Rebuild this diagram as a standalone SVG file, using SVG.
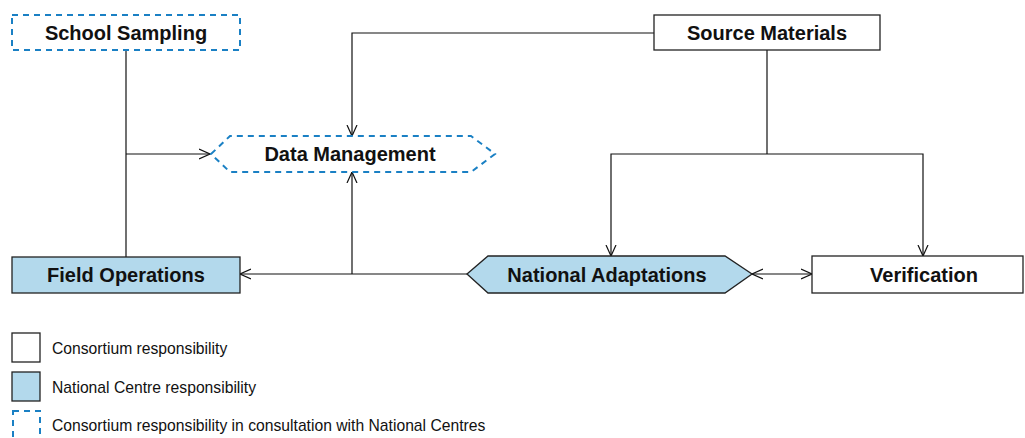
<svg xmlns="http://www.w3.org/2000/svg" width="1025" height="438" viewBox="0 0 1025 438">
<style>
.solid{fill:#fff;stroke:#222;stroke-width:1.3}
.nat{fill:#b3d9ec;stroke:#222;stroke-width:1.3}
.dash{fill:#fff;stroke:#1a80c4;stroke-width:2;stroke-dasharray:6 5}
.t{font-family:"Liberation Sans",Arial,sans-serif;font-weight:bold;font-size:20px;fill:#111;text-anchor:middle}
.l{font-family:"Liberation Sans",Arial,sans-serif;font-size:15.7px;fill:#111}
.c{fill:none;stroke:#111;stroke-width:1.2}
</style>
<defs>
<marker id="a" viewBox="0 0 12 12" refX="11" refY="6" markerWidth="12" markerHeight="12" markerUnits="userSpaceOnUse" orient="auto-start-reverse">
<path d="M0,1 L11,6 L0,11" fill="none" stroke="#111" stroke-width="1.2"/>
</marker>
</defs>
<g id="connectors">
<path class="c" d="M126,50 V257"/>
<path class="c" d="M126,154 H210" marker-end="url(#a)"/>
<path class="c" d="M654,33 H352 V136" marker-end="url(#a)"/>
<path class="c" d="M467,274 H240" marker-end="url(#a)"/>
<path class="c" d="M352,274 V172" marker-end="url(#a)"/>
<path class="c" d="M767,50 V154"/>
<path class="c" d="M767,154 H611 V256" marker-end="url(#a)"/>
<path class="c" d="M767,154 H923 V256" marker-end="url(#a)"/>
<path class="c" d="M752,274 H812" marker-start="url(#a)" marker-end="url(#a)"/>
</g>
<g id="school-sampling">
<rect class="dash" x="12" y="15" width="228" height="35"/>
<text class="t" x="126" y="40">School Sampling</text>
</g>
<g id="source-materials">
<rect class="solid" x="654" y="15" width="226" height="35"/>
<text class="t" x="767" y="40">Source Materials</text>
</g>
<g id="data-management">
<polygon class="dash" points="211,154 230,136 471,136 495,154 471,172 230,172"/>
<text class="t" x="350" y="161">Data Management</text>
</g>
<g id="field-operations">
<rect class="nat" x="12" y="257" width="228" height="36"/>
<text class="t" x="126" y="282">Field Operations</text>
</g>
<g id="national-adaptations">
<polygon class="nat" points="467,274 488,256 725,256 752,274 725,293 488,293"/>
<text class="t" x="607" y="282">National Adaptations</text>
</g>
<g id="verification">
<rect class="solid" x="812" y="256" width="211" height="37"/>
<text class="t" x="924" y="282">Verification</text>
</g>
<g id="legend">
<rect class="solid" x="12" y="333" width="28" height="29"/>
<text class="l" x="52" y="354">Consortium responsibility</text>
<rect class="nat" x="12" y="372" width="28" height="29"/>
<text class="l" x="52" y="393">National Centre responsibility</text>
<rect class="dash" x="13" y="411" width="27" height="30"/>
<text class="l" x="52" y="431">Consortium responsibility in consultation with National Centres</text>
</g>
</svg>
